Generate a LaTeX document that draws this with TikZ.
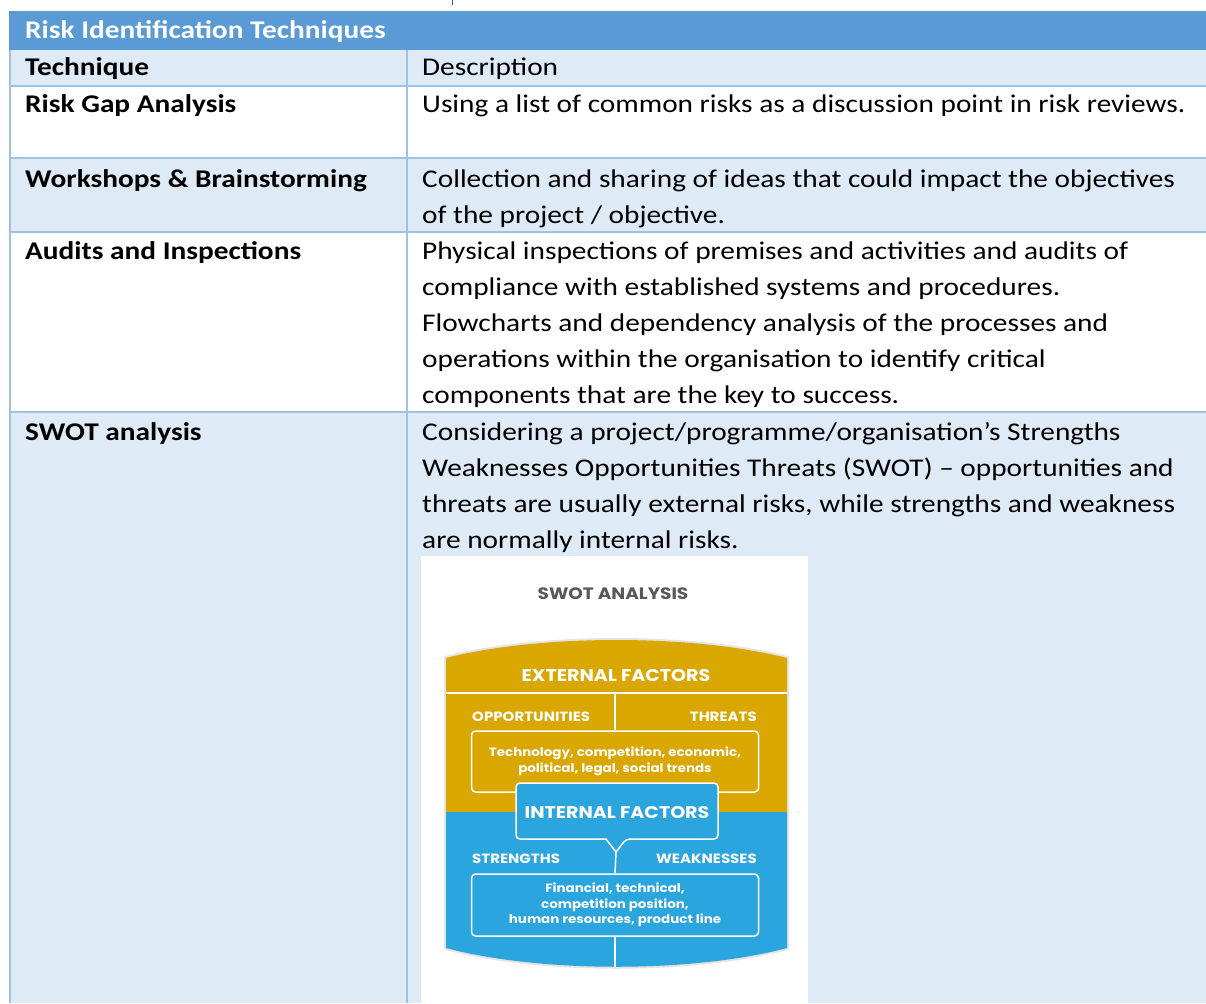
\documentclass[tikz,border=0pt]{standalone}
\usepackage{fontspec}
\setmainfont{Carlito}[FakeStretch=1.15]
\newfontfamily\swotfont{Poppins}[FakeStretch=1.12]

\definecolor{headblue}{HTML}{5B9BD5}
\definecolor{rowblue}{HTML}{DEEAF6}
\definecolor{gridblue}{HTML}{9CC2E5}
\definecolor{swotgold}{HTML}{DAA600}
\definecolor{swotblue}{HTML}{2AA5DE}
\definecolor{swotgray}{HTML}{58595B}
\definecolor{swotrim}{HTML}{E4E4E4}
\definecolor{cursorblue}{HTML}{44546A}

\begin{document}
\begin{tikzpicture}[x=1pt, y=-1pt,
    cell/.style={anchor=base west, inner sep=0pt, font=\fontsize{25.5}{36}\selectfont},
    cellhead/.style={cell, font=\fontsize{25.5}{36}\selectfont\bfseries},
    grid/.style={gridblue, line width=1.5pt},
    swotline/.style={white, line width=1.5pt},
    swotcap/.style={anchor=base, inner sep=0pt, text=white, font=\swotfont\bfseries\fontsize{17}{20}\selectfont},
    swotsmall/.style={inner sep=0pt, text=white, font=\swotfont\bfseries\fontsize{13.4}{15}\selectfont},
    swotbox/.style={draw=white, line width=1.5pt, rounded corners=4pt, inner sep=0pt,
        minimum width=287pt, minimum height=61pt, align=center, text=white,
        font=\swotfont\bfseries\fontsize{12}{15.5}\selectfont}]

    % Fix the page size
    \useasboundingbox (0,0) rectangle (1206,1003);
    \fill[white] (0,0) rectangle (1206,1003);

    % Small cursor mark above the table
    \draw[cursorblue, line width=1pt] (452,0) -- (452,5);

    % Header row and shaded rows
    \fill[headblue] (9,11) rectangle (1206,50);
    \fill[rowblue] (10,50) rectangle (1206,86);
    \fill[rowblue] (10,158) rectangle (1206,232);
    \fill[rowblue] (10,412) rectangle (1206,1003);

    % Grid lines
    \draw[grid] (10,50) -- (10,1003);
    \draw[grid] (407,50) -- (407,1003);
    \foreach \y in {86,158,232,412}
        \draw[grid] (10,\y) -- (1206,\y);

    % Title and column heads
    \node[cellhead, text=white] (title) at (25,39) {Risk Identification Techniques};
    \node[cellhead] (technique) at (25,76) {Technique};
    \node[cell] (description) at (422,76) {Description};

    % Technique names
    \node[cellhead] (gap) at (25,113) {Risk Gap Analysis};
    \node[cellhead] (workshops) at (25,187) {Workshops \& Brainstorming};
    \node[cellhead] (audits) at (25,259) {Audits and Inspections};
    \node[cellhead] (swot) at (25,440) {SWOT analysis};

    % Descriptions, one node per line
    \node[cell] (gap-1) at (422,113) {Using a list of common risks as a discussion point in risk reviews.};
    \foreach \txt [count=\i] in {Collection and sharing of ideas that could impact the objectives,
        of the project / objective.}
        \node[cell] (workshops-\i) at (422,151+36*\i) {\txt};
    \foreach \txt [count=\i] in {Physical inspections of premises and activities and audits of,
        compliance with established systems and procedures.,
        Flowcharts and dependency analysis of the processes and,
        operations within the organisation to identify critical,
        components that are the key to success.}
        \node[cell] (audits-\i) at (422,223+36*\i) {\txt};
    \foreach \txt [count=\i] in {Considering a project/programme/organisation’s Strengths,
        Weaknesses Opportunities Threats (SWOT) – opportunities and,
        {threats are usually external risks, while strengths and weakness},
        are normally internal risks.}
        \node[cell] (swot-\i) at (422,404+36*\i) {\txt};

    % SWOT picture area
    \fill[white] (421,556) rectangle (808,1003);
    \node[anchor=base, inner sep=0pt, text=swotgray, font=\swotfont\bfseries\fontsize{16.5}{18}\selectfont]
        (swottitle) at (613,599) {SWOT ANALYSIS};

    % Shield: rim, gold half, blue half
    \draw[swotrim, line width=4pt] (446,658) .. controls (540,634) and (693,634) .. (787,658)
        -- (787,948) .. controls (693,973) and (540,973) .. (446,948) -- cycle;
    \fill[swotgold] (446,812) -- (446,658) .. controls (540,634) and (693,634) .. (787,658)
        -- (787,812) -- cycle;
    \fill[swotblue] (446,812) -- (446,948) .. controls (540,973) and (693,973) .. (787,948)
        -- (787,812) -- cycle;

    % External factors
    \node[swotcap] (external) at (616,681) {EXTERNAL FACTORS};
    \coordinate (splitL) at (446,693);
    \coordinate (splitR) at (787,693);
    \draw[swotline] (splitL) -- (splitR);
    \node[swotsmall, anchor=base west] (opp) at (472,721) {OPPORTUNITIES};
    \node[swotsmall, anchor=base east] (threats) at (757,721) {THREATS};
    \node[swotbox, fill=swotgold] (extbox) at (615,761.5)
        {Technology, competition, economic,\\political, legal, social trends};
    \draw[swotline] (extbox.north) -- (extbox.north |- splitL);

    % Internal factors, box with a notch
    \coordinate (notch) at (616,852);
    \draw[swotline, fill=swotblue, rounded corners=4pt] (516,783) -- (718,783) -- (718,839)
        -- (626,839) [sharp corners] -- (notch) -- (606,839) [rounded corners=4pt] -- (516,839) -- cycle;
    \node[swotcap] (internal) at (617,818) {INTERNAL FACTORS};
    \node[swotsmall, anchor=base west] (strengths) at (472,863) {STRENGTHS};
    \node[swotsmall, anchor=base east] (weak) at (757,863) {WEAKNESSES};
    \node[swotbox, fill=swotblue, minimum height=62pt] (intbox) at (615,905)
        {Financial, technical,\\competition position,\\human resources, product line};
    \draw[swotline] (notch) -- (intbox.north);
    \coordinate (bottom) at (616,967);
    \draw[swotline] (intbox.south) -- (intbox.south |- bottom);

\end{tikzpicture}
\end{document}
